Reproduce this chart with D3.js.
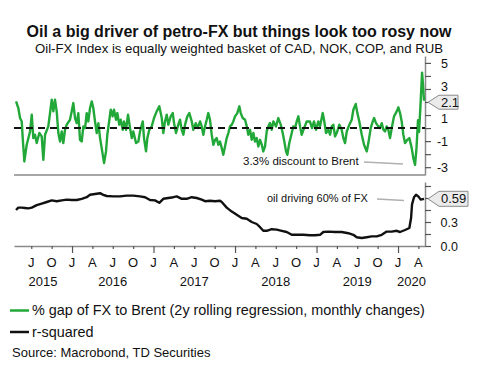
<!DOCTYPE html>
<html>
<head>
<meta charset="utf-8">
<script src="https://cdn.jsdelivr.net/npm/d3@7"></script>
<style>
body { margin: 0; background: #fff; }
svg text { font-family: "Liberation Sans", Arial, sans-serif; fill: #111; }
</style>
</head>
<body>
<svg id="chart" width="479" height="374"></svg>
<script>
// ---- data (time as decimal years) ----
const gapYears = [2015.313,2015.341,2015.362,2015.383,2015.395,2015.415,2015.444,2015.485,2015.506,2015.525,2015.546,2015.567,2015.599,2015.628,2015.648,2015.669,2015.709,2015.730,2015.751,2015.771,2015.791,2015.812,2015.832,2015.853,2015.874,2015.893,2015.914,2015.935,2015.975,2015.996,
2016.016,2016.037,2016.058,2016.077,2016.098,2016.119,2016.139,2016.160,2016.180,2016.200,2016.221,2016.242,2016.261,2016.282,2016.303,2016.323,2016.344,2016.364,2016.393,2016.417,2016.433,2016.458,2016.475,2016.499,2016.515,2016.540,2016.556,2016.580,2016.598,2016.622,2016.638,2016.663,2016.687,2016.712,2016.733,2016.752,2016.785,2016.814,2016.834,2016.868,2016.883,2016.908,2016.924,2016.948,2016.978,
2017.006,2017.039,2017.071,2017.101,2017.120,2017.141,2017.162,2017.182,2017.211,2017.236,2017.252,2017.276,2017.304,2017.325,2017.346,2017.366,2017.387,2017.415,2017.439,2017.469,2017.488,2017.518,2017.542,2017.571,2017.591,2017.611,2017.632,2017.653,2017.672,2017.693,2017.714,2017.734,2017.755,2017.775,2017.795,2017.816,2017.837,2017.856,2017.877,2017.898,2017.918,2017.939,2017.960,2017.979,
2018.000,2018.028,2018.053,2018.070,2018.094,2018.123,2018.144,2018.163,2018.184,2018.205,2018.225,2018.245,2018.266,2018.286,2018.307,2018.328,2018.347,2018.368,2018.389,2018.409,2018.429,2018.450,2018.470,2018.503,2018.531,2018.561,2018.585,2018.601,2018.626,2018.642,2018.666,2018.696,2018.715,2018.736,2018.757,2018.777,2018.798,2018.818,2018.847,2018.880,2018.920,2018.945,2018.969,2018.994,
2019.022,2019.043,2019.076,2019.092,2019.117,2019.145,2019.166,2019.187,2019.206,2019.227,2019.248,2019.280,2019.309,2019.329,2019.350,2019.371,2019.403,2019.432,2019.452,2019.481,2019.501,2019.525,2019.555,2019.583,2019.616,2019.636,2019.665,2019.690,2019.706,2019.730,2019.758,2019.779,2019.800,2019.820,2019.841,2019.861,2019.881,2019.902,2019.923,2019.951,2019.984,
2020.004,2020.025,2020.045,2020.065,2020.086,2020.114,2020.139,2020.168,2020.188,2020.209,2020.227,2020.245,2020.258,2020.276,2020.295,2020.307,2020.319];
const gapValues = [2.05,1.54,0.77,0.51,-0.77,-2.56,-1.28,-0.26,1.03,-0.77,-0.51,-1.15,-0.38,-0.64,-2.44,-0.51,0.13,1.15,2.18,1.28,2.18,1.28,-0.38,-1.03,-0.26,-1.15,-0.13,0.26,0.64,1.28,
1.92,0.77,0.38,1.15,-0.90,-1.03,0.13,0.0,1.15,0.51,1.54,2.05,1.54,0.51,-0.38,0.38,-0.77,-1.54,-2.69,-1.79,-0.51,0.64,1.41,0.90,1.41,0.64,1.15,0.26,0.64,-0.13,0.51,-0.13,1.03,0.0,-0.77,-0.26,-1.15,-1.03,-0.26,0.51,-0.77,-1.79,-0.77,-0.13,0.13,
0.77,1.28,1.67,0.77,-0.38,0.51,1.03,0.26,0.90,1.15,0.38,-0.38,0.26,0.64,-0.13,-0.51,0.26,0.90,1.15,0.51,-0.13,0.38,0.0,0.51,0.13,-0.51,0.13,0.64,1.15,0.64,-0.51,-1.28,-0.90,-0.77,-1.28,-1.03,-1.54,-2.05,-1.41,-0.77,-0.38,0.13,0.26,0.51,
0.90,1.15,1.67,1.15,0.77,0.64,0.13,-0.51,-0.13,-0.90,-0.38,-1.03,-0.77,-1.41,-0.90,-1.28,-1.79,-1.41,-0.26,0.13,0.38,-0.13,0.51,0.13,0.77,0.26,-0.38,-0.90,-1.79,-2.05,-1.15,-0.38,0.13,0.0,0.51,0.90,0.13,-0.51,0.0,0.51,0.50,0.0,0.51,-0.13,
0.51,0.13,1.15,0.64,-0.38,-0.13,-0.51,0.13,0.26,-0.64,-0.38,0.26,-0.13,-0.77,-1.15,-0.26,0.26,0.64,1.41,1.85,1.15,0.51,-0.51,-1.28,-1.79,-1.15,0.0,0.51,0.77,0.38,0.13,0.0,0.38,-0.13,-0.26,0.13,-0.13,-0.77,0.0,0.90,1.28,
1.59,1.15,0.51,-0.51,-1.15,-0.90,-0.77,-1.54,-2.31,-2.82,-1.50,0.60,-0.30,1.80,4.25,3.30,2.10];

const rsqYears = [2015.313,2015.341,2015.383,2015.423,2015.464,2015.506,2015.567,2015.628,2015.690,2015.751,2015.812,2015.874,2015.935,2015.996,
2016.058,2016.119,2016.180,2016.221,2016.282,2016.344,2016.384,2016.426,2016.507,2016.589,2016.671,2016.752,2016.834,2016.896,2016.957,
2017.018,2017.071,2017.120,2017.182,2017.243,2017.285,2017.346,2017.407,2017.469,2017.530,2017.591,2017.632,2017.693,2017.755,2017.816,2017.837,2017.898,2017.960,
2018.021,2018.082,2018.144,2018.205,2018.266,2018.307,2018.347,2018.389,2018.450,2018.512,2018.573,2018.634,2018.696,2018.757,2018.838,2018.920,2018.982,
2019.043,2019.083,2019.145,2019.227,2019.309,2019.390,2019.452,2019.493,2019.555,2019.616,2019.677,2019.739,2019.800,2019.861,2019.923,2019.984,
2020.025,2020.086,2020.139,2020.160,2020.172,2020.196,2020.221,2020.249,2020.278,2020.319];
const rsqValues = [0.45,0.48,0.48,0.475,0.47,0.48,0.51,0.53,0.55,0.57,0.56,0.57,0.58,0.575,
0.575,0.59,0.61,0.64,0.65,0.66,0.64,0.625,0.62,0.62,0.63,0.63,0.62,0.61,0.575,
0.57,0.54,0.59,0.60,0.61,0.62,0.59,0.59,0.61,0.60,0.58,0.56,0.565,0.56,0.565,0.55,0.48,0.43,
0.39,0.35,0.34,0.30,0.275,0.235,0.19,0.19,0.21,0.205,0.19,0.175,0.14,0.14,0.14,0.135,0.135,
0.14,0.175,0.18,0.175,0.175,0.16,0.14,0.11,0.10,0.11,0.12,0.12,0.14,0.18,0.18,0.19,
0.175,0.20,0.225,0.35,0.52,0.61,0.64,0.62,0.58,0.59];

const gapTicks = [-3, -2, -1, 0, 1, 2, 3, 4, 5];
const gapLabels = [-3, -1, 1, 3, 5];
const rsqTicks = [0, 0.15, 0.3, 0.45, 0.6, 0.75];
const rsqLabels = [0, 0.3];   // 0.6 sits under the last-value tag
const monthLetters = ["J", "A", "J", "O"];
const yearList = [2015, 2016, 2017, 2018, 2019, 2020];
const lastGap = 2.1, lastRsq = 0.59;

const titleText = "Oil a big driver of petro-FX but things look too rosy now";
const subtitleText = "Oil-FX Index is equally weighted basket of CAD, NOK, COP, and RUB";
const legendItems = [
    { label: "% gap of FX to Brent (2y rolling regression, monthly changes)", color: "#22a838" },
    { label: "r-squared", color: "#111" }
];
const sourceText = "Source: Macrobond, TD Securities";

// ---- layout ----
const left = 14, right = 425;
const greenCol = "#22a838", axisCol = "#8a8a8a";

const svg = d3.select("#chart");

const x = d3.scaleLinear().domain([2015.288, 2020.331]).range([left, right]);
const yGap = d3.scaleLinear().domain([-3.6, 5.53]).range([175, 56]);
const yRsq = d3.scaleLinear().domain([0, 0.8]).range([246, 182]);

// titles
svg.append("text").attr("x", 239).attr("y", 37).attr("text-anchor", "middle")
    .style("font-size", "16px").style("font-weight", "bold").text(titleText);
svg.append("text").attr("x", 239).attr("y", 52.5).attr("text-anchor", "middle")
    .style("font-size", "13.2px").text(subtitleText);

// top panel frame: bottom border
svg.append("line").attr("x1", left).attr("x2", right).attr("y1", 175).attr("y2", 175)
    .attr("stroke", axisCol).attr("stroke-width", 1.5);

// top panel right axis
let gAxisTop = svg.append("g").attr("transform", "translate(" + right + ",0)")
    .call(d3.axisRight(yGap).tickValues(gapTicks).tickSize(6).tickSizeOuter(0)
        .tickFormat(d => gapLabels.includes(d) ? d : ""));

// bottom panel right axis
let gAxisBot = svg.append("g").attr("transform", "translate(" + right + ",0)")
    .call(d3.axisRight(yRsq).tickValues(rsqTicks).tickSize(6).tickSizeOuter(0)
        .tickFormat(d => rsqLabels.includes(d) ? d3.format(".1f")(d) : ""));

gAxisTop.selectAll("text").attr("x", 23).attr("text-anchor", "end");
gAxisBot.selectAll("text").attr("x", 33).attr("text-anchor", "end");
for (let g of [gAxisTop, gAxisBot]) {
    g.select(".domain").attr("stroke", axisCol).attr("stroke-width", 1.5);
    g.selectAll(".tick line").attr("stroke", "#555").attr("stroke-width", 1.2);
    g.selectAll("text").style("font-size", "12.5px").attr("fill", "#111").attr("dy", "0.36em");
}
// labels either side of the 2.1 tag are nudged apart a little
gAxisTop.selectAll("text").filter(d => d === 3).attr("dy", "0.15em");
gAxisTop.selectAll("text").filter(d => d === 1).attr("dy", "0.58em");

// bottom time axis, quarterly ticks
let quarterTicks = [];
for (let yr of yearList) {
    for (let q = 0; q < 4; q++) {
        let t = yr + q * 0.25;
        if (t >= 2015.5 && t <= 2020.25) quarterTicks.push(t);
    }
}
let gX = svg.append("g").attr("transform", "translate(0,246)")
    .call(d3.axisBottom(x).tickValues(quarterTicks).tickSize(3).tickSizeOuter(0).tickFormat(""));
gX.select(".domain").attr("stroke", axisCol).attr("stroke-width", 1.5);
gX.selectAll(".tick line").attr("stroke", "#555").attr("stroke-width", 1.2)
    .attr("y2", d => Number.isInteger(d) ? 7 : 3);

svg.append("g").selectAll("text").data(quarterTicks).join("text")
    .attr("x", d => x(d)).attr("y", 267).attr("text-anchor", "middle")
    .style("font-size", "13px")
    .text(d => monthLetters[Math.round((d % 1) * 4)]);

svg.append("g").selectAll("text").data(yearList).join("text")
    .attr("x", d => (x(Math.max(d, x.domain()[0])) + x(Math.min(d + 1, x.domain()[1]))) / 2)
    .attr("y", 285.5).attr("text-anchor", "middle")
    .style("font-size", "13px")
    .text(d => d);

// zero line + green series
const gapData = gapYears.map((t, i) => [t, gapValues[i]]);
const rsqData = rsqYears.map((t, i) => [t, rsqValues[i]]);

svg.append("path").datum(gapData)
    .attr("fill", "none").attr("stroke", greenCol).attr("stroke-width", 2.4)
    .attr("stroke-linejoin", "round")
    .attr("d", d3.line().x(d => x(d[0])).y(d => yGap(d[1])));

svg.append("line").attr("x1", left).attr("x2", right).attr("y1", yGap(0)).attr("y2", yGap(0))
    .attr("stroke", "#111").attr("stroke-width", 2).attr("stroke-dasharray", "7,5");

svg.append("path").datum(rsqData)
    .attr("fill", "none").attr("stroke", "#111").attr("stroke-width", 2.4)
    .attr("stroke-linejoin", "round")
    .attr("d", d3.line().x(d => x(d[0])).y(d => yRsq(d[1])));

// annotations
svg.append("text").attr("x", 243).attr("y", 165).style("font-size", "11.5px").text("3.3% discount to Brent");
svg.append("line").attr("x1", 364).attr("y1", 162).attr("x2", 403).attr("y2", 164)
    .attr("stroke", "#b0b0b0").attr("stroke-width", 1.5);
svg.append("text").attr("x", 267).attr("y", 202).style("font-size", "11px").text("oil driving 60% of FX");
svg.append("line").attr("x1", 377).attr("y1", 199).attr("x2", 404).attr("y2", 200.5)
    .attr("stroke", "#b0b0b0").attr("stroke-width", 1.5);

// last-value callouts
function callout(yPos, label, w, h) {
    let tip = 428, bx = 439;
    svg.append("polygon")
        .attr("points", [[tip, yPos], [bx, yPos - h / 2], [bx + w, yPos - h / 2], [bx + w, yPos + h / 2], [bx, yPos + h / 2]].join(" "))
        .attr("fill", "#ebebeb").attr("stroke", "#8a8a8a").attr("stroke-width", 1);
    svg.append("text").attr("x", bx + 2).attr("y", yPos + 4.6).style("font-size", "13px").text(label);
}
callout(yGap(lastGap) + 1.5, d3.format(".1f")(lastGap), 19, 14);
callout(yRsq(lastRsq), d3.format(".2f")(lastRsq), 29, 15);

// legend
let leg = svg.append("g").selectAll("g").data(legendItems).join("g")
    .attr("transform", (d, i) => "translate(0," + (310.5 + i * 21.5) + ")");
leg.append("line").attr("x1", 10).attr("x2", 29).attr("y1", 0).attr("y2", 0)
    .attr("stroke", d => d.color).attr("stroke-width", 2.5);
leg.append("text").attr("x", 32).attr("y", 4.8).style("font-size", "14.4px").text(d => d.label);

svg.append("text").attr("x", 12).attr("y", 357).style("font-size", "13px").text(sourceText);
</script>
</body>
</html>
